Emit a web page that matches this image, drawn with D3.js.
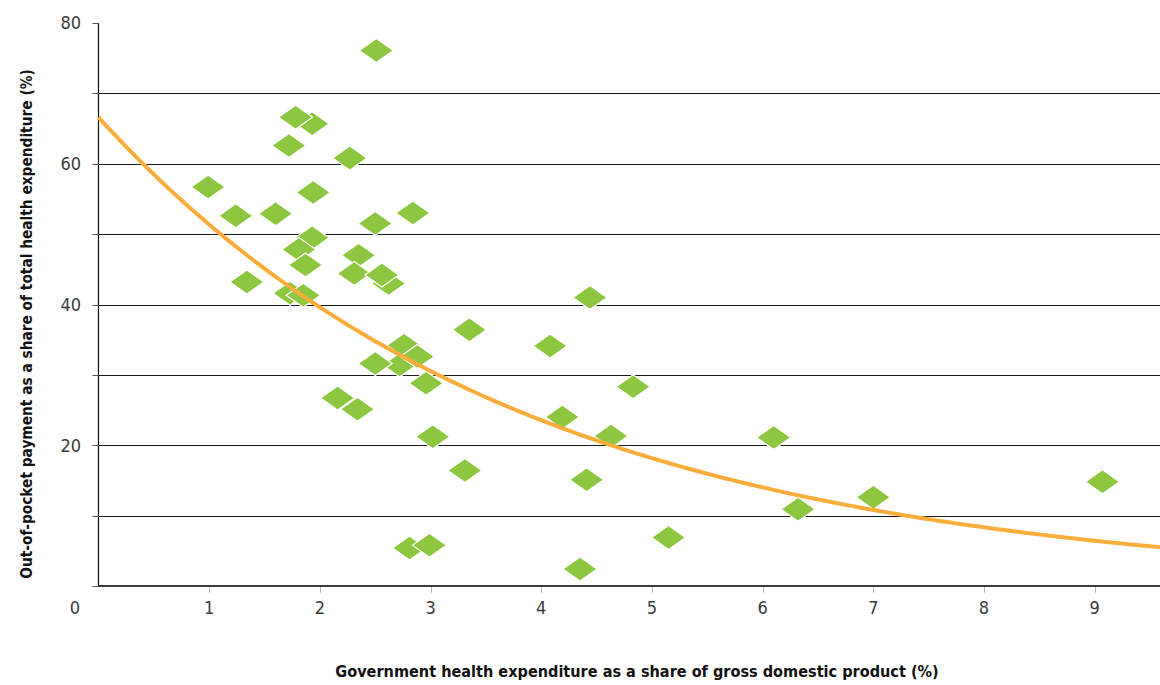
<!DOCTYPE html>
<html>
<head>
<meta charset="utf-8">
<script src="https://cdn.jsdelivr.net/npm/d3@7"></script>
<style>
  html, body { margin: 0; padding: 0; background: #fff; }
  svg { display: block; }
  .tick-label { font-family: "Liberation Sans Narrow", "DejaVu Sans Condensed", "Roboto", sans-serif; font-size: 18px; fill: #3a3a3a; }
  .axis-title { font-family: "Liberation Sans Narrow", "DejaVu Sans Condensed", "Roboto", sans-serif; font-size: 20px; font-weight: bold; fill: #111; }
</style>
</head>
<body>
<svg id="chart" width="1160" height="685"></svg>
<script>
// Government health expenditure (% of GDP) per country
const govSpend = [
  2.62, 1.93, 2.51, 1.78, 1.72, 2.27, 0.99, 1.94, 1.24, 1.60,
  2.84, 2.50, 1.93, 1.81, 1.87, 2.35, 2.31, 2.56, 1.34, 1.73,
  1.85, 4.44, 3.35, 4.08, 2.72, 2.76, 2.88, 2.50, 2.96, 4.83,
  2.16, 2.34, 4.19, 3.02, 4.63, 6.10, 3.31, 4.41, 9.07, 7.00,
  6.32, 5.15, 2.81, 2.99, 4.35
];
// Out-of-pocket payment (% of total health expenditure), same order
const outOfPocket = [
  43.0, 65.7, 76.1, 66.6, 62.6, 60.8, 56.7, 55.9, 52.6, 52.9,
  53.0, 51.5, 49.5, 47.8, 45.6, 47.0, 44.4, 44.2, 43.2, 41.6,
  41.3, 41.0, 36.4, 34.1, 31.4, 34.2, 32.6, 31.6, 28.8, 28.3,
  26.7, 25.1, 24.0, 21.2, 21.3, 21.1, 16.4, 15.1, 14.8, 12.6,
  10.9, 6.9, 5.4, 5.8, 2.4
];

// Exponential trend: y = a * exp(b * x)
const trendA = 66.6;
const trendB = -0.2598;

const yTicks = [0, 10, 20, 30, 40, 50, 60, 70, 80];
const yTickLabels = ["", "", "20", "", "40", "", "60", "", "80"];
const xTicks = [1, 2, 3, 4, 5, 6, 7, 8, 9];
const gridValues = [10, 20, 30, 40, 50, 60, 70];

const xTitle = "Government health expenditure as a share of gross domestic product (%)";
const yTitle = "Out-of-pocket payment as a share of total health expenditure (%)";

const svg = d3.select("#chart");
const plotLeft = 98.5, plotRight = 1160, plotTop = 23, plotBottom = 586;
const xMax = 9.59;

const x = d3.scaleLinear().domain([0, xMax]).range([plotLeft, plotRight]);
const y = d3.scaleLinear().domain([0, 80]).range([plotBottom, plotTop]);

// horizontal gridlines
svg.append("g")
  .selectAll("line")
  .data(gridValues)
  .join("line")
  .attr("x1", plotLeft).attr("x2", plotRight)
  .attr("y1", d => Math.round(y(d)) + 0.5).attr("y2", d => Math.round(y(d)) + 0.5)
  .attr("stroke", "#1a1a1a").attr("stroke-width", 1);

// y axis line and ticks
svg.append("line")
  .attr("x1", plotLeft).attr("x2", plotLeft).attr("y1", plotTop).attr("y2", plotBottom)
  .attr("stroke", "#111").attr("stroke-width", 1.2);
svg.append("g")
  .selectAll("line")
  .data(yTicks)
  .join("line")
  .attr("x1", plotLeft - 6).attr("x2", plotLeft)
  .attr("y1", d => Math.round(y(d)) + 0.5).attr("y2", d => Math.round(y(d)) + 0.5)
  .attr("stroke", "#555").attr("stroke-width", 1);

svg.append("g")
  .selectAll("text")
  .data(yTicks.filter((d, i) => yTickLabels[i] !== ""))
  .join("text")
  .attr("class", "tick-label")
  .attr("x", 81)
  .attr("y", d => y(d))
  .attr("dy", "0.35em")
  .attr("text-anchor", "end")
  .text(d => yTickLabels[yTicks.indexOf(d)]);

// x axis ticks and line
svg.append("g")
  .selectAll("line")
  .data(xTicks)
  .join("line")
  .attr("x1", d => Math.round(x(d)) + 0.5).attr("x2", d => Math.round(x(d)) + 0.5)
  .attr("y1", plotBottom).attr("y2", plotBottom + 7)
  .attr("stroke", "#bbb").attr("stroke-width", 1);
svg.append("line")
  .attr("x1", plotLeft - 0.5).attr("x2", plotRight).attr("y1", plotBottom).attr("y2", plotBottom)
  .attr("stroke", "#3c3c3c").attr("stroke-width", 2);

svg.append("g")
  .selectAll("text")
  .data(xTicks)
  .join("text")
  .attr("class", "tick-label")
  .attr("x", d => x(d))
  .attr("y", 608)
  .attr("dy", "0.35em")
  .attr("text-anchor", "middle")
  .text(d => d);
// origin label
svg.append("text")
  .attr("class", "tick-label")
  .attr("x", 75).attr("y", 608).attr("dy", "0.35em")
  .attr("text-anchor", "middle")
  .text("0");

// data points as diamonds
const diamond = "M0,-12L17,0L0,12L-17,0Z";
svg.append("g")
  .selectAll("path")
  .data(govSpend.map((g, i) => [g, outOfPocket[i]]))
  .join("path")
  .attr("d", diamond)
  .attr("transform", d => `translate(${x(d[0])},${y(d[1])})`)
  .attr("fill", "#8dc63f")
  .attr("stroke", "#fff")
  .attr("stroke-width", 1.2);

// trend curve across the full axis
const trendXs = d3.range(0, xMax, 0.05).concat([xMax]);
const line = d3.line()
  .x(d => x(d))
  .y(d => y(trendA * Math.exp(trendB * d)))
  .curve(d3.curveMonotoneX);
svg.append("path")
  .datum(trendXs)
  .attr("d", line)
  .attr("fill", "none")
  .attr("stroke", "#fbad3b")
  .attr("stroke-width", 4);

// axis titles, font size fitted to the wanted width
function fitText(sel, width) {
  const natural = sel.node().getComputedTextLength();
  const size = Math.min(20, 20 * width / natural);
  sel.style("font-size", size + "px");
}

const xt = svg.append("text")
  .attr("class", "axis-title")
  .attr("x", 637).attr("y", 677)
  .attr("text-anchor", "middle")
  .text(xTitle);
fitText(xt, 604);

const yt = svg.append("text")
  .attr("class", "axis-title")
  .attr("transform", "translate(32,324) rotate(-90)")
  .attr("text-anchor", "middle")
  .text(yTitle);
fitText(yt, 510);
</script>
</body>
</html>
